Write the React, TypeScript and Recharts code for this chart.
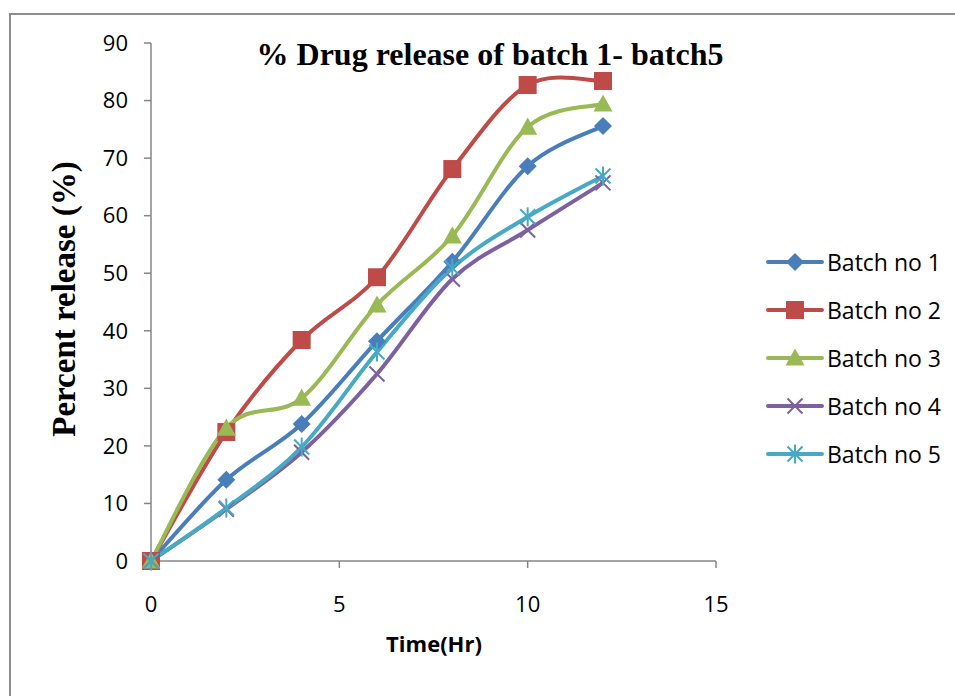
import { Line, LineChart, XAxis, YAxis } from 'recharts'

const hours = [0, 2, 4, 6, 8, 10, 12]
const batch1 = [0, 14.1, 23.8, 38.2, 52.0, 68.6, 75.6]
const batch2 = [0, 22.4, 38.4, 49.3, 68.1, 82.7, 83.4]
const batch3 = [0, 23.1, 28.3, 44.5, 56.5, 75.4, 79.4]
const batch4 = [0, 9.0, 18.9, 32.5, 49.0, 57.5, 65.7]
const batch5 = [0, 9.2, 19.8, 36.3, 50.9, 59.8, 66.9]
const xTicks = [0, 5, 10, 15]
const yTicks = [0, 10, 20, 30, 40, 50, 60, 70, 80, 90]

const SERIES = [
  { key: 'b1', name: 'Batch no 1', values: batch1, color: '#4A7EBB', marker: 'diamond' },
  { key: 'b2', name: 'Batch no 2', values: batch2, color: '#BE4B48', marker: 'square' },
  { key: 'b3', name: 'Batch no 3', values: batch3, color: '#98B954', marker: 'triangle' },
  { key: 'b4', name: 'Batch no 4', values: batch4, color: '#7D60A0', marker: 'x' },
  { key: 'b5', name: 'Batch no 5', values: batch5, color: '#46AAC5', marker: 'star' },
]

const data = hours.map((h, i) => {
  const row: Record<string, number> = { hour: h }
  SERIES.forEach((s) => (row[s.key] = s.values[i]))
  return row
})

// Excel-like smoothing (Catmull-Rom as cubic beziers)
function excelCurve(context: any) {
  let pts: [number, number][] = []
  return {
    areaStart() {},
    areaEnd() {},
    lineStart() {
      pts = []
    },
    point(x: number, y: number) {
      pts.push([+x, +y])
    },
    lineEnd() {
      if (!pts.length) return
      context.moveTo(pts[0][0], pts[0][1])
      for (let i = 0; i < pts.length - 1; i++) {
        const p0 = pts[i - 1] || pts[i]
        const p1 = pts[i]
        const p2 = pts[i + 1]
        const p3 = pts[i + 2] || p2
        context.bezierCurveTo(
          p1[0] + (p2[0] - p0[0]) / 6,
          p1[1] + (p2[1] - p0[1]) / 6,
          p2[0] - (p3[0] - p1[0]) / 6,
          p2[1] - (p3[1] - p1[1]) / 6,
          p2[0],
          p2[1],
        )
      }
    },
  }
}

function Marker({ type, cx, cy, color }: { type: string; cx: number; cy: number; color: string }) {
  if (type === 'diamond') {
    const r = 9
    return <path d={`M${cx},${cy - r}L${cx + r},${cy}L${cx},${cy + r}L${cx - r},${cy}Z`} fill={color} />
  }
  if (type === 'square') {
    const r = 9
    return <rect x={cx - r} y={cy - r} width={r * 2} height={r * 2} fill={color} />
  }
  if (type === 'triangle') {
    const r = 9.5
    return <path d={`M${cx},${cy - r}L${cx + r},${cy + r * 0.8}L${cx - r},${cy + r * 0.8}Z`} fill={color} />
  }
  const r = 7.5
  const x = (
    <path
      d={`M${cx - r},${cy - r}L${cx + r},${cy + r}M${cx - r},${cy + r}L${cx + r},${cy - r}`}
      stroke={color}
      strokeWidth={2}
    />
  )
  if (type === 'x') return x
  return (
    <g>
      {x}
      <path d={`M${cx},${cy - r - 2}L${cx},${cy + r + 2}`} stroke={color} strokeWidth={2} />
    </g>
  )
}

function LegendBox() {
  return (
    <div style={{ position: 'absolute', left: 765, top: 238 }}>
      {SERIES.map((s) => (
        <div key={s.key} style={{ display: 'flex', alignItems: 'center', height: 48 }}>
          <svg width={60} height={22}>
            <line x1={3} y1={11} x2={57} y2={11} stroke={s.color} strokeWidth={4} strokeLinecap="round" />
            <Marker type={s.marker} cx={30} cy={11} color={s.color} />
          </svg>
          <span style={{ fontSize: 23, color: '#000', fontFamily: '"Open Sans", sans-serif', marginLeft: 2 }}>{s.name}</span>
        </div>
      ))}
    </div>
  )
}

const tickStyle = { fontSize: 22, fill: '#000', fontFamily: '"Open Sans", sans-serif' }

export default function App() {
  return (
    <div style={{ position: 'absolute', left: 0, top: 0, width: 955, height: 696, background: '#fff' }}>
      <div
        style={{
          position: 'absolute',
          left: 9,
          top: 13,
          right: 0,
          bottom: 0,
          borderTop: '2px solid #8c8c8c',
          borderLeft: '2px solid #8c8c8c',
        }}
      />
      <LineChart
        width={955}
        height={696}
        data={data}
        margin={{ top: 43, right: 239, bottom: 105, left: 91 }}
        style={{ position: 'absolute', left: 0, top: 0 }}
      >
        <XAxis
          dataKey="hour"
          type="number"
          domain={[0, 15]}
          ticks={xTicks}
          height={30}
          stroke="#868686"
          strokeWidth={1.5}
          tickSize={7}
          tickMargin={28}
          tick={tickStyle}
          tickLine={{ stroke: '#868686' }}
        />
        <YAxis
          type="number"
          domain={[0, 90]}
          ticks={yTicks}
          width={60}
          stroke="#868686"
          strokeWidth={1.5}
          tickSize={7}
          tickMargin={16}
          tick={tickStyle}
          tickLine={{ stroke: '#868686' }}
        />
        {SERIES.map((s) => (
          <Line
            key={s.key}
            dataKey={s.key}
            name={s.name}
            type={excelCurve as any}
            stroke={s.color}
            strokeWidth={4}
            dot={(p: any) => <Marker key={`${s.key}-${p.index}`} type={s.marker} cx={p.cx} cy={p.cy} color={s.color} />}
            activeDot={false}
            isAnimationActive={false}
          />
        ))}
        <text
          x={490}
          y={65}
          textAnchor="middle"
          style={{ fontFamily: '"Liberation Serif", serif', fontWeight: 'bold', fontSize: 32 }}
        >
          % Drug release of batch 1- batch5
        </text>
        <text
          x={0}
          y={0}
          textAnchor="middle"
          transform="translate(75, 299) rotate(-90)"
          style={{ fontFamily: '"Liberation Serif", serif', fontWeight: 'bold', fontSize: 33 }}
        >
          Percent release (%)
        </text>
        <text
          x={434}
          y={652}
          textAnchor="middle"
          style={{ fontFamily: '"Open Sans", sans-serif', fontWeight: 'bold', fontSize: 22 }}
        >
          Time(Hr)
        </text>
      </LineChart>
      <LegendBox />
    </div>
  )
}
